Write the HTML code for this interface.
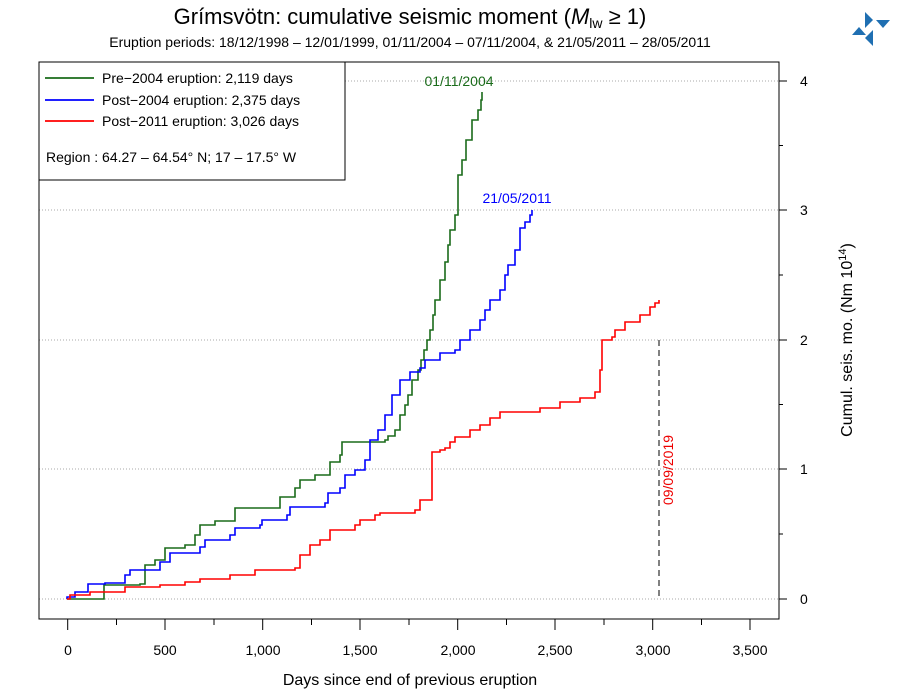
<!DOCTYPE html>
<html><head><meta charset="utf-8"><style>body{margin:0;background:#fff}svg{display:block;font-family:"Liberation Sans",sans-serif}</style></head><body>
<svg width="900" height="700" viewBox="0 0 900 700" xmlns="http://www.w3.org/2000/svg">
<text x="410" y="24" font-size="22" text-anchor="middle">Grímsvötn: cumulative seismic moment (<tspan font-style="italic">M</tspan><tspan font-size="14" dy="4">lw</tspan><tspan dy="-4"> ≥ 1)</tspan></text>
<text x="410" y="47" font-size="14" text-anchor="middle">Eruption periods: 18/12/1998 – 12/01/1999, 01/11/2004 – 07/11/2004, &amp; 21/05/2011 – 28/05/2011</text>
<g fill="#1f6fb2"><polygon points="865,12 873,20 865,28"/><polygon points="852,35 866,35 859,27"/><polygon points="876,20 890,20 883,28"/><polygon points="873,30 865,38 873,46"/></g>
<g stroke="#aaa" stroke-dasharray="1,2" stroke-width="1">
<line x1="39" x2="779" y1="81" y2="81"/><line x1="39" x2="779" y1="210" y2="210"/><line x1="39" x2="779" y1="340" y2="340"/><line x1="39" x2="779" y1="469" y2="469"/><line x1="39" x2="779" y1="599" y2="599"/></g>
<rect x="39" y="62" width="740" height="557" fill="none" stroke="#000"/>
<g stroke="#000"><path d="M67.7 619v11M116.5 619v6M165 619v11M214 619v6M262.7 619v11M311.5 619v6M360 619v11M409 619v6M457.7 619v11M506.5 619v6M555 619v11M604 619v6M652.7 619v11M701.5 619v6M750 619v11"/>
<path d="M779 81h8M779 145.5h4M779 210h8M779 275h4M779 340h8M779 404.5h4M779 469h8M779 534h4M779 599h8"/></g>
<g font-size="14" text-anchor="middle"><text x="68" y="655">0</text><text x="165" y="655">500</text><text x="263" y="655">1,000</text><text x="360" y="655">1,500</text><text x="458" y="655">2,000</text><text x="555" y="655">2,500</text><text x="653" y="655">3,000</text><text x="750" y="655">3,500</text></g>
<g font-size="14"><text x="800" y="86">4</text><text x="800" y="215">3</text><text x="800" y="345">2</text><text x="800" y="474">1</text><text x="800" y="604">0</text></g>
<text x="410" y="685" font-size="16" text-anchor="middle">Days since end of previous eruption</text>
<text transform="translate(852,340) rotate(-90)" font-size="16" text-anchor="middle">Cumul. seis. mo. (Nm 10<tspan font-size="11" dy="-6">14</tspan><tspan dy="6">)</tspan></text>
<line x1="659" y1="340" x2="659" y2="599" stroke="#000" stroke-dasharray="6,4"/>
<text transform="translate(673,470) rotate(-90)" font-size="14" fill="#e00" text-anchor="middle">09/09/2019</text>
<g fill="none" stroke-width="1.6">
<path stroke="#1a6b1a" d="M67,599 H104 V585 H140 V584 H145 V565 H155 V560 H165 V548 H185 V545 H195 V535 H200 V525 H215 V521 H235 V508 H280 V497 H295 V488 H300 V480 H315 V475 H330 V462 H340 V455 H342 V442 H385 V440 H388 V436 H395 V430 H400 V415 H405 V405 H408 V395 H412 V380 H418 V370 H421 V360 H424 V350 H427 V340 H430 V330 H433 V315 H435 V300 H440 V280 H445 V262 H448 V245 H450 V230 H455 V215 H458 V175 H462 V160 H466 V140 H472 V120 H478 V110 H481 V100 H482 V92"/>
<path stroke="#00f" d="M67,599 V597 H75 V592 H88 V584 H105 V583 H125 V575 H130 V570 H160 V562 H170 V553 H200 V547 H205 V540 H230 V535 H235 V528 H260 V525 H262 V520 H287 V515 H290 V507 H325 V503 H328 V493 H340 V488 H345 V475 H355 V470 H365 V460 H370 V440 H378 V430 H385 V415 H392 V395 H400 V380 H410 V372 H420 V368 H425 V360 H440 V353 H455 V350 H460 V340 H470 V330 H480 V320 H485 V310 H490 V300 H500 V290 H505 V275 H508 V265 H515 V250 H520 V228 H525 V222 H530 V215 H532 V210"/>
<path stroke="#f00" d="M67,599 H70 V595 H90 V592 H125 V587 H160 V585 H185 V582 H200 V579 H230 V575 H255 V570 H295 V568 H300 V555 H310 V545 H320 V540 H330 V530 H355 V525 H360 V520 H375 V515 H380 V513 H415 V510 H420 V500 H432 V452 H440 V450 H445 V448 H450 V442 H455 V437 H470 V430 H480 V425 H490 V418 H500 V412 H540 V408 H560 V402 H580 V398 H595 V392 H600 V370 H602 V340 H612 V337 H615 V330 H625 V322 H640 V315 H650 V307 H655 V303 H659 V300"/>
</g>
<text x="459" y="86" font-size="14" fill="#1a6b1a" text-anchor="middle">01/11/2004</text>
<text x="517" y="203" font-size="14" fill="#00f" text-anchor="middle">21/05/2011</text>
<rect x="39" y="62" width="306" height="118" fill="#fff" stroke="#000"/>
<g stroke-width="1.8"><line x1="45" x2="94" y1="78" y2="78" stroke="#1a6b1a"/><line x1="45" x2="94" y1="100" y2="100" stroke="#00f"/><line x1="45" x2="94" y1="121" y2="121" stroke="#f00"/></g>
<g font-size="14"><text x="102" y="83">Pre−2004 eruption: 2,119 days</text><text x="102" y="105">Post−2004 eruption: 2,375 days</text><text x="102" y="126">Post−2011 eruption: 3,026 days</text><text x="46" y="162">Region : 64.27 – 64.54° N; 17 – 17.5° W</text></g>
</svg>
</body></html>
